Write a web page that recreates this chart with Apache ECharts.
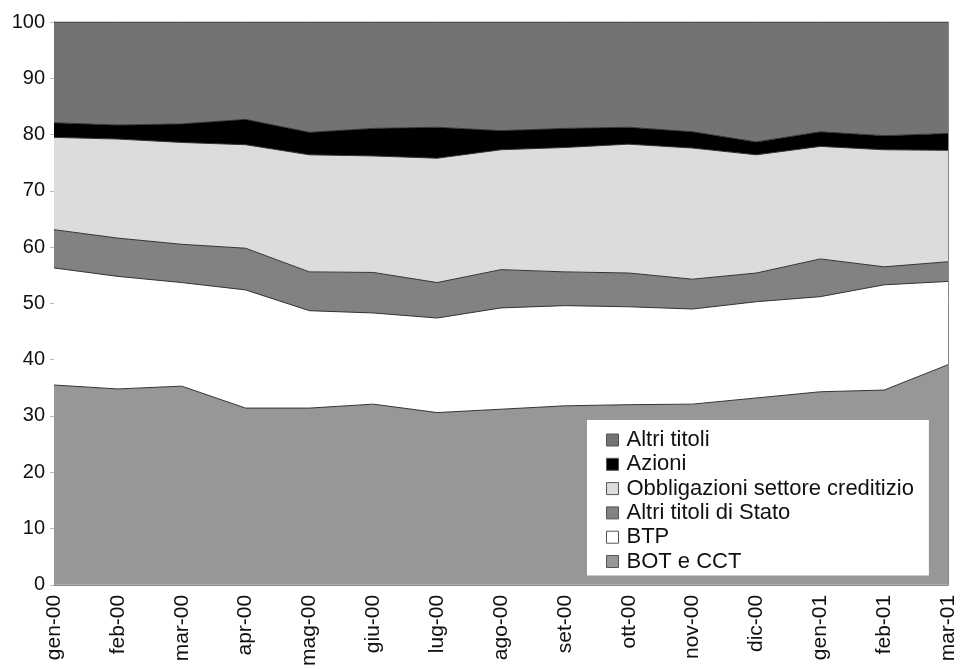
<!DOCTYPE html>
<html>
<head>
<meta charset="utf-8">
<script src="https://cdn.jsdelivr.net/npm/echarts@6/dist/echarts.min.js"></script>
<style>
  html, body { margin: 0; padding: 0; background: #ffffff; }
  #chart { width: 960px; height: 669px; }
</style>
</head>
<body>
<div id="chart"></div>
<script>
// Months on the horizontal axis
const months = ['gen-00', 'feb-00', 'mar-00', 'apr-00', 'mag-00', 'giu-00', 'lug-00',
                'ago-00', 'set-00', 'ott-00', 'nov-00', 'dic-00', 'gen-01', 'feb-01', 'mar-01'];

// Portfolio shares (percent), bottom of the stack first
const botCct       = [35.5, 34.8, 35.3, 31.4, 31.4, 32.1, 30.6, 31.2, 31.8, 32.0, 32.1, 33.2, 34.3, 34.6, 39.1];
const btp          = [20.8, 20.0, 18.4, 21.0, 17.3, 16.2, 16.8, 18.0, 17.8, 17.4, 16.9, 17.1, 16.9, 18.7, 14.8];
const altriStato   = [6.8, 6.8, 6.8, 7.4, 6.9, 7.2, 6.3, 6.8, 6.0, 6.0, 5.3, 5.1, 6.7, 3.2, 3.5];
const obbligazioni = [16.4, 17.6, 18.1, 18.4, 20.8, 20.7, 22.1, 21.3, 22.1, 22.9, 23.3, 21.0, 20.0, 20.8, 19.8];
const azioni       = [2.6, 2.5, 3.3, 4.5, 4.0, 4.9, 5.5, 3.4, 3.4, 3.0, 2.9, 2.3, 2.6, 2.5, 3.0];
const altriTitoli  = [17.9, 18.3, 18.1, 17.3, 19.6, 18.9, 18.7, 19.3, 18.9, 18.7, 19.5, 21.3, 19.5, 20.2, 19.8];

// Y axis tick labels
const yTicks = [0, 10, 20, 30, 40, 50, 60, 70, 80, 90, 100];

const layers = [
  { name: 'BOT e CCT', data: botCct, color: '#979797' },
  { name: 'BTP', data: btp, color: '#ffffff' },
  { name: 'Altri titoli di Stato', data: altriStato, color: '#828282' },
  { name: 'Obbligazioni settore creditizio', data: obbligazioni, color: '#dcdcdc' },
  { name: 'Azioni', data: azioni, color: '#000000' },
  { name: 'Altri titoli', data: altriTitoli, color: '#737373' }
];

const font = 'Liberation Sans, Arial, sans-serif';

const chart = echarts.init(document.getElementById('chart'), null, { renderer: 'canvas' });

chart.setOption({
  animation: false,
  backgroundColor: '#ffffff',
  grid: { left: 54, right: 12, top: 22, bottom: 84, containLabel: false },
  legend: {
    orient: 'vertical',
    left: 587,
    top: 420,
    backgroundColor: '#ffffff',
    padding: [9, 15, 3, 19],
    itemWidth: 12,
    itemHeight: 12,
    itemGap: 2.3,
    icon: 'rect',
    textStyle: { fontFamily: font, fontSize: 22, color: '#111', lineHeight: 22, padding: [0, 0, 0, 3] },
    data: layers.slice().reverse().map(l => ({
      name: l.name,
      itemStyle: { color: l.color, borderColor: '#555', borderWidth: 1 }
    }))
  },
  xAxis: {
    type: 'category',
    data: months,
    boundaryGap: false,
    axisLine: { show: true, lineStyle: { color: '#888', width: 1 } },
    axisTick: { show: false },
    axisLabel: {
      rotate: 90,
      margin: 10,
      fontFamily: font,
      fontSize: 21,
      color: '#111',
      interval: 0
    },
    splitLine: { show: false }
  },
  yAxis: [
    {
      type: 'value',
      min: 0,
      max: 100,
      interval: 10,
      axisLine: { show: true, lineStyle: { color: '#888', width: 1 } },
      axisTick: { show: true, length: 4, lineStyle: { color: '#bbb' } },
      axisLabel: {
        margin: 9,
        fontFamily: font,
        fontSize: 20,
        color: '#111',
        formatter: v => (yTicks.indexOf(v) >= 0 ? String(v) : '')
      },
      splitLine: { show: false }
    },
    {
      type: 'value',
      position: 'right',
      min: 0,
      max: 100,
      interval: 10,
      axisLine: { show: true, lineStyle: { color: '#888', width: 1 } },
      axisTick: { show: false },
      axisLabel: { show: false },
      splitLine: { show: false }
    }
  ],
  series: layers.map(l => ({
    name: l.name,
    type: 'line',
    stack: 'quote',
    data: l.data,
    symbol: 'none',
    smooth: false,
    color: l.color,
    itemStyle: { color: l.color },
    lineStyle: { color: '#333', width: 1 },
    areaStyle: { color: l.color, opacity: 1 },
    emphasis: { disabled: true }
  }))
});
</script>
</body>
</html>
